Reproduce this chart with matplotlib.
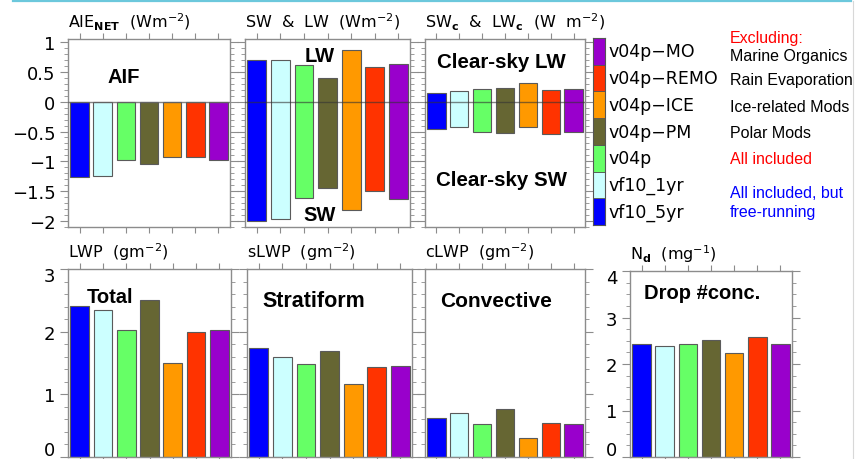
import matplotlib
matplotlib.use("Agg")
import matplotlib.pyplot as plt
from matplotlib.ticker import MultipleLocator
from matplotlib.lines import Line2D

# ---------------- data ----------------
runs = ["vf10_5yr", "vf10_1yr", "v04p", "v04p\u2212PM", "v04p\u2212ICE", "v04p\u2212REMO", "v04p\u2212MO"]
colors = ["#0000ff", "#ccffff", "#66ff66", "#666633", "#ff9900", "#ff3300", "#9900cc"]
descriptions = ["free-running", "All included, but", "All included", "Polar Mods",
                "Ice-related Mods", "Rain Evaporation", "Marine Organics", "Excluding:"]

aie_net = [-1.27, -1.24, -0.98, -1.05, -0.92, -0.92, -0.98]
lw = [0.70, 0.70, 0.61, 0.39, 0.87, 0.58, 0.63]
sw = [-2.00, -1.96, -1.62, -1.45, -1.81, -1.49, -1.63]
lwc = [0.15, 0.18, 0.22, 0.23, 0.32, 0.20, 0.22]
swc = [-0.46, -0.43, -0.50, -0.53, -0.43, -0.55, -0.50]
lwp = [2.41, 2.34, 2.03, 2.50, 1.50, 1.99, 2.02]
slwp = [1.74, 1.60, 1.48, 1.69, 1.16, 1.44, 1.46]
clwp = [0.63, 0.71, 0.53, 0.77, 0.31, 0.55, 0.53]
nd = [2.42, 2.38, 2.43, 2.51, 2.23, 2.57, 2.44]

top_ticks = [-2, -1.5, -1, -0.5, 0, 0.5, 1]
top_ticklabels = ["\u22122", "\u22121.5", "\u22121", "\u22120.5", "0", "0.5", "1"]
lwp_ticks = [0, 1, 2, 3]
nd_ticks = [0, 1, 2, 3, 4]

# ---------------- figure ----------------
W, H = 855, 460
fig = plt.figure(figsize=(W / 100, H / 100), dpi=100)
plt.rcParams['font.family'] = ['DejaVu Sans']

def add_ax(x0, x1, y0, y1):
    return fig.add_axes([x0 / W, 1 - y1 / H, (x1 - x0) / W, (y1 - y0) / H])

FRAME = "#8c8c8c"
x = list(range(len(runs)))

def style(ax, ylim, minor, ticks, ticklabels=None):
    ax.set_xlim(-0.5, 6.5)
    ax.set_ylim(*ylim)
    for s in ax.spines.values():
        s.set_color(FRAME)
        s.set_linewidth(1.0)
    ax.set_xticks(x)
    ax.tick_params(axis='x', which='both', direction='out', top=True, bottom=True,
                   labelbottom=False, length=4, color=FRAME)
    ax.set_yticks(ticks)
    ax.yaxis.set_minor_locator(MultipleLocator(minor))
    ax.tick_params(axis='y', which='major', direction='out', left=True, right=True,
                   length=6, color=FRAME, labelsize=13, pad=3,
                   labelleft=ticklabels is not None)
    ax.tick_params(axis='y', which='minor', direction='out', left=True, right=True,
                   length=3, color=FRAME)
    if ticklabels is not None:
        ax.set_yticklabels(ticklabels)

def end_labels(ax, ticks):
    # the lowest and highest labels sit slightly inside, as in the reference
    labs = [str(t) for t in ticks]
    ax.set_yticklabels([""] + labs[1:-1] + [""])
    for val, s, dy in ((ticks[0], labs[0], 5), (ticks[-1], labs[-1], -5)):
        ax.annotate(s, xy=(0, val), xycoords=('axes fraction', 'data'),
                    xytext=(-9, dy), textcoords='offset points', ha='right',
                    va='center', fontsize=13, annotation_clip=False)

def bars(ax, vals, bottom=None):
    ax.bar(x, vals, width=0.8, bottom=bottom, color=colors, edgecolor="#5a5a5a",
           linewidth=0.8, zorder=2)

def title(ax, s, h=188):
    ax.text(0.0, 1.0 + 12 / h, s, transform=ax.transAxes, ha='left', va='baseline',
            fontsize=11.5, family='DejaVu Sans')

def label(ax, xf, yf, s, size=14.5):
    ax.text(xf, yf, s, transform=ax.transAxes, ha='center', va='center',
            fontsize=size, fontweight='bold', family='Liberation Sans', zorder=5)

TOP_LIM = (-2.1, 1.05)

# AIE_NET
ax1 = add_ax(68, 230, 40, 228)
bars(ax1, aie_net)
ax1.axhline(0, color="#666666", lw=1, alpha=0.8, zorder=3)
style(ax1, TOP_LIM, 0.1, top_ticks, top_ticklabels)
title(ax1, r"AIE$_{\mathbf{NET}}$  (Wm$^{-2}$)")
label(ax1, 0.346, 0.798, "AIF")

# SW & LW
ax2 = add_ax(245, 410, 40, 228)
bars(ax2, [l - s for l, s in zip(lw, sw)], bottom=sw)
ax2.axhline(0, color="#333333", lw=1, alpha=0.6, zorder=3)
style(ax2, TOP_LIM, 0.1, top_ticks)
title(ax2, r"SW  &  LW  (Wm$^{-2}$)")
label(ax2, 0.455, 0.91, "LW")
label(ax2, 0.455, 0.069, "SW")

# Clear-sky
ax3 = add_ax(425, 585, 40, 228)
bars(ax3, [l - s for l, s in zip(lwc, swc)], bottom=swc)
ax3.axhline(0, color="#333333", lw=1, alpha=0.6, zorder=3)
style(ax3, TOP_LIM, 0.1, top_ticks)
title(ax3, r"SW$_{\mathbf{c}}$  &  LW$_{\mathbf{c}}$  (W  m$^{-2}$)")
label(ax3, 0.475, 0.878, "Clear-sky LW", 14.8)
label(ax3, 0.475, 0.255, "Clear-sky SW", 14.8)

# LWP
ax4 = add_ax(68, 231, 270, 458)
bars(ax4, lwp)
style(ax4, (0, 3), 0.2, lwp_ticks, [str(t) for t in lwp_ticks])
end_labels(ax4, lwp_ticks)
title(ax4, r"LWP  (gm$^{-2}$)")
label(ax4, 0.258, 0.856, "Total")

# sLWP
ax5 = add_ax(247, 412, 270, 458)
bars(ax5, slwp)
style(ax5, (0, 3), 0.2, lwp_ticks)
title(ax5, r"sLWP  (gm$^{-2}$)")
label(ax5, 0.406, 0.835, "Stratiform", 15.5)

# cLWP
ax6 = add_ax(425, 585, 270, 458)
bars(ax6, clwp)
style(ax6, (0, 3), 0.2, lwp_ticks)
title(ax6, r"cLWP  (gm$^{-2}$)")
label(ax6, 0.444, 0.835, "Convective", 15)

# Nd
ax7 = add_ax(630, 792, 272, 458)
bars(ax7, nd)
style(ax7, (0, 4), 0.25, nd_ticks, [str(t) for t in nd_ticks])
end_labels(ax7, nd_ticks)
title(ax7, r"N$_{\mathbf{d}}$  (mg$^{-1}$)", 186)
label(ax7, 0.444, 0.887, "Drop #conc.")

# legend colour bar
axl = add_ax(593, 605, 39, 226)
axl.barh(x, [1] * len(x), height=1.0, color=colors, edgecolor="#555555", linewidth=0.6)
axl.set_xlim(0, 1)
axl.set_ylim(-0.5, 6.5)
axl.set_xticks([])
axl.set_yticks([])
for s in axl.spines.values():
    s.set_color("#555555")
    s.set_linewidth(0.8)
for i, name in enumerate(runs):
    axl.text(1.25, i, name, transform=axl.get_yaxis_transform(), ha='left', va='center',
             fontsize=12.5)

# descriptions
desc_y = [213, 193, 160, 133, 108, 81, 57, 38]
desc_c = ["#0000ff", "#0000ff", "#ff0000", "black", "black", "black", "black", "#ff0000"]
for s, yy, c in zip(descriptions, desc_y, desc_c):
    fig.text(730 / W, 1 - yy / H, s, ha='left', va='center', fontsize=11.5,
             family='Liberation Sans', color=c)

# slide decorations
fig.add_artist(Line2D([13 / W, 851 / W], [1 - 1.5 / H, 1 - 1.5 / H], color="#6cc8dc", lw=1.6))
fig.add_artist(Line2D([852.5 / W, 852.5 / W], [0, 1 - 1.5 / H], color="#d8d8d8", lw=0.8))

fig.savefig("out.png", dpi=100)
